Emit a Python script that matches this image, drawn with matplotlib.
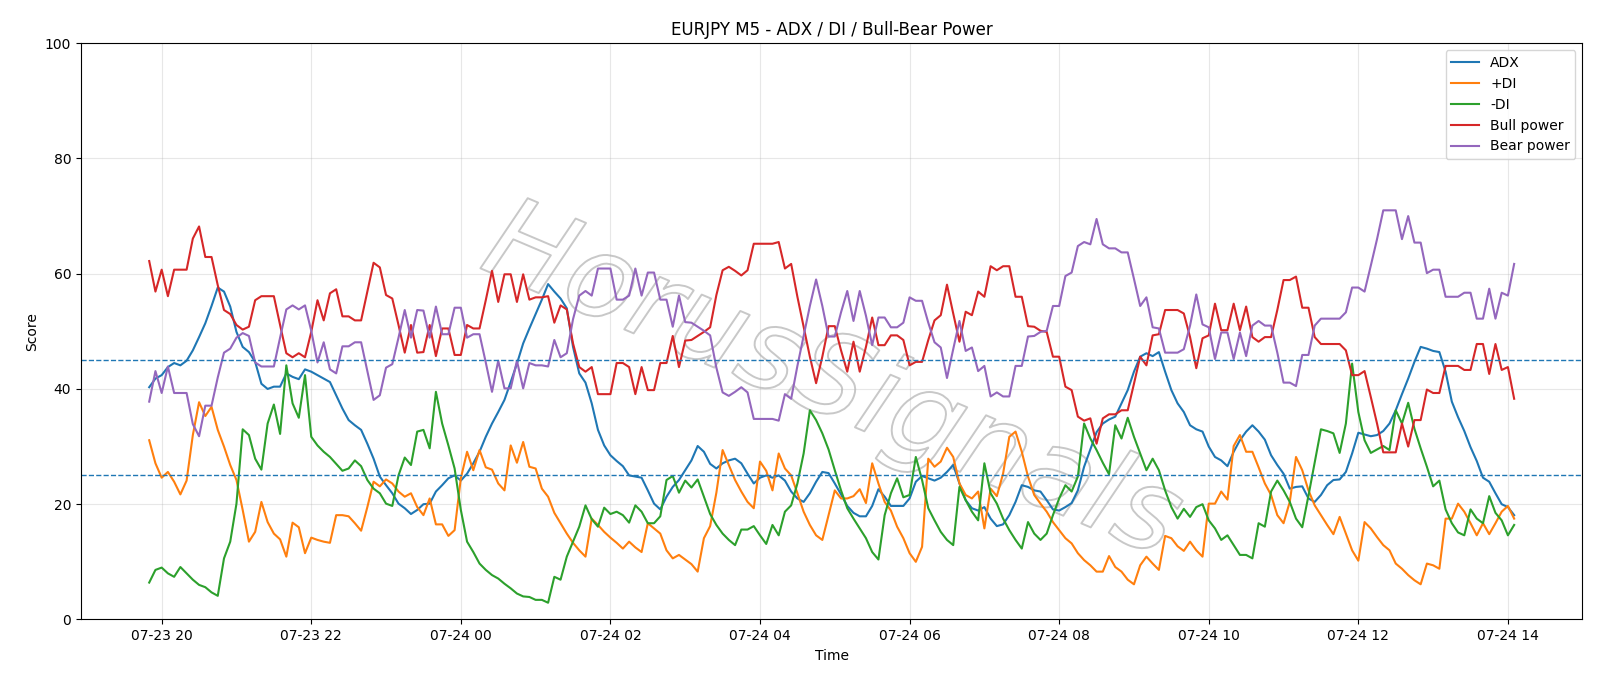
import numpy as np
import pandas as pd
import matplotlib
matplotlib.use("Agg")
import matplotlib.pyplot as plt
import matplotlib.dates as mdates
import matplotlib.patheffects as pe

# 5-minute bars, 07-23 19:50 -> 07-24 14:05
start_time = "2025-07-23 19:50"
n_bars = 220

adx = [
    40.3, 41.8, 42.4, 43.8, 44.5, 44.1, 44.9, 46.7, 49.0, 51.4,
    54.4, 57.6, 56.9, 54.3, 49.9, 47.3, 46.4, 44.7, 40.9, 40.0,
    40.4, 40.4, 42.7, 42.1, 41.7, 43.4, 43.0, 42.4, 41.8, 41.2,
    38.9, 36.6, 34.6, 33.7, 32.9, 30.5, 27.9, 24.8, 23.3, 21.9,
    20.1, 19.3, 18.3, 19.0, 20.0, 20.1, 22.2, 23.3, 24.5, 25.0,
    24.1, 25.3, 27.1, 29.1, 31.7, 34.0, 36.0, 38.1, 41.2, 44.4,
    47.9, 50.5, 53.0, 55.5, 58.2, 56.9, 55.7, 54.0, 47.3, 42.7,
    41.1, 37.5, 32.9, 30.2, 28.5, 27.5, 26.6, 25.0, 24.8, 24.6,
    22.4, 20.1, 19.1, 21.3, 23.0, 24.2, 25.9, 27.6, 30.1, 29.1,
    27.0, 26.2, 27.1, 27.6, 27.9, 27.1, 25.3, 23.6, 24.6, 25.0,
    24.6, 25.0, 24.1, 22.2, 21.0, 20.4, 21.9, 23.9, 25.6, 25.4,
    23.6, 21.7, 19.7, 18.5, 17.9, 17.9, 19.7, 22.6, 21.3, 19.7,
    19.7, 19.7, 21.0, 23.9, 24.9, 24.5, 24.1, 24.6, 25.6, 26.8,
    23.6, 20.7, 19.3, 18.9, 19.5, 17.5, 16.2, 16.5, 18.1, 20.4,
    23.3, 23.0, 22.4, 22.2, 20.7, 19.1, 18.9, 19.5, 20.2, 22.4,
    26.5, 29.5, 32.5, 34.0, 34.7, 35.2, 37.5, 39.8, 43.0, 45.6,
    46.2, 45.7, 46.4, 43.0, 39.8, 37.5, 36.0, 33.7, 33.0, 32.6,
    30.0, 28.2, 27.6, 26.6, 29.1, 31.1, 32.6, 33.7, 32.6, 31.2,
    28.5, 26.8, 25.3, 22.7, 23.0, 23.1, 21.0, 20.4, 21.6, 23.3,
    24.2, 24.3, 25.6, 28.8, 32.4, 32.1, 31.8, 32.0, 32.7, 34.0,
    36.3, 39.1, 41.8, 44.7, 47.3, 47.0, 46.6, 46.4, 43.0, 37.8,
    35.1, 32.7, 29.9, 27.5, 24.6, 23.9, 21.9, 20.0, 19.5, 18.1,
]

plus_di = [
    31.1, 27.1, 24.6, 25.6, 23.9, 21.7, 24.1, 32.0, 37.7, 35.3,
    36.9, 32.9, 30.0, 26.8, 24.2, 19.0, 13.5, 15.2, 20.4, 16.9,
    14.9, 13.9, 10.9, 16.8, 16.0, 11.5, 14.2, 13.8, 13.5, 13.3,
    18.1, 18.1, 17.9, 16.7, 15.4, 19.5, 23.9, 23.1, 24.3, 23.6,
    22.2, 21.3, 21.9, 19.5, 18.1, 21.0, 16.5, 16.5, 14.5, 15.5,
    24.5, 29.1, 25.9, 29.4, 26.4, 26.0, 23.6, 22.4, 30.2, 27.2,
    30.8, 26.5, 26.2, 22.7, 21.3, 18.5, 16.7, 14.9, 13.3, 12.0,
    10.9, 17.5, 16.4, 15.2, 14.2, 13.3, 12.3, 13.5, 12.5, 11.7,
    16.7, 15.8, 14.9, 12.0, 10.6, 11.2, 10.4, 9.6, 8.3, 14.1,
    16.2, 22.0, 29.4, 26.8, 24.2, 22.2, 20.4, 19.3, 27.4, 25.8,
    22.4, 28.8, 26.2, 25.0, 21.9, 18.7, 16.4, 14.6, 13.8, 18.1,
    22.4, 21.0, 21.0, 21.4, 22.6, 20.2, 27.1, 23.6, 20.4, 18.9,
    16.1, 14.1, 11.5, 10.0, 12.6, 27.9, 26.5, 27.4, 29.8, 28.2,
    23.6, 21.6, 21.0, 22.2, 15.8, 22.7, 21.4, 25.3, 31.7, 32.6,
    29.1, 24.8, 21.6, 20.1, 18.7, 16.9, 15.5, 14.1, 13.2, 11.5,
    10.3, 9.4, 8.3, 8.3, 11.0, 9.1, 8.3, 6.9, 6.1, 9.4,
    10.9, 9.7, 8.6, 14.5, 14.1, 12.7, 11.9, 13.5, 12.0, 10.9,
    20.1, 20.1, 22.2, 20.8, 30.1, 32.0, 29.1, 29.1, 26.4, 23.6,
    21.6, 18.1, 16.7, 20.4, 28.2, 25.9, 22.4, 19.8, 18.1, 16.4,
    14.8, 17.8, 14.9, 12.0, 10.2, 16.9, 15.8, 14.3, 12.9, 12.0,
    9.7, 8.8, 7.7, 6.8, 6.1, 9.7, 9.4, 8.8, 17.5, 17.5,
    20.1, 18.7, 16.7, 14.6, 16.7, 14.8, 16.7, 18.7, 19.7, 17.5,
]

minus_di = [
    6.4, 8.6, 9.0, 8.0, 7.4, 9.1, 8.0, 6.9, 6.0, 5.6,
    4.7, 4.1, 10.6, 13.5, 20.1, 33.0, 32.0, 27.9, 26.0, 34.0,
    37.3, 32.2, 44.1, 37.5, 35.0, 42.4, 31.7, 30.2, 29.1, 28.2,
    27.0, 25.8, 26.2, 27.6, 26.6, 24.2, 22.7, 21.9, 20.1, 19.7,
    25.0, 28.1, 26.8, 32.6, 32.9, 29.7, 39.5, 34.0, 30.2, 26.2,
    19.0, 13.5, 11.7, 9.7, 8.6, 7.7, 7.1, 6.2, 5.4, 4.5,
    4.0, 3.9, 3.4, 3.4, 2.9, 7.4, 6.9, 10.9, 13.5, 16.1,
    19.8, 17.4, 16.1, 19.4, 18.3, 18.7, 18.1, 16.8, 19.8, 18.7,
    16.7, 16.7, 17.9, 24.2, 24.9, 22.0, 24.1, 22.9, 24.3, 21.3,
    18.3, 16.4, 14.9, 13.8, 12.9, 15.6, 15.6, 16.2, 14.6, 13.1,
    16.4, 14.6, 18.7, 19.8, 23.6, 28.8, 36.3, 34.6, 32.3, 29.5,
    25.9, 22.4, 19.3, 17.5, 15.8, 14.1, 11.7, 10.4, 18.1, 21.9,
    24.5, 21.2, 21.6, 28.2, 24.2, 19.3, 17.2, 15.2, 13.8, 12.9,
    23.0, 20.7, 18.7, 17.2, 27.1, 21.9, 20.1, 17.5, 15.5, 13.8,
    12.3, 16.9, 14.9, 13.8, 14.9, 18.1, 21.0, 23.3, 22.2, 24.8,
    34.0, 31.4, 29.4, 27.2, 25.2, 33.7, 31.4, 35.0, 31.7, 28.8,
    25.9, 27.9, 25.9, 22.4, 19.5, 17.5, 19.2, 17.8, 19.5, 20.0,
    17.2, 15.8, 13.8, 14.6, 12.9, 11.2, 11.2, 10.6, 16.7, 16.1,
    22.2, 24.1, 22.4, 20.4, 17.5, 16.0, 21.5, 27.2, 33.0, 32.7,
    32.3, 28.9, 34.0, 44.4, 36.0, 31.1, 28.9, 29.5, 30.1, 29.4,
    36.3, 34.0, 37.6, 33.1, 29.7, 26.5, 23.1, 24.1, 19.1, 16.7,
    15.1, 14.6, 19.1, 17.5, 16.7, 21.4, 18.5, 17.2, 14.6, 16.4,
]

bull_power = [
    62.2, 56.9, 60.7, 56.1, 60.7, 60.7, 60.7, 66.1, 68.2, 62.9,
    62.9, 58.0, 53.7, 53.0, 51.1, 50.3, 50.8, 55.4, 56.1, 56.1,
    56.1, 51.1, 46.2, 45.5, 46.2, 45.5, 49.9, 55.4, 51.9, 56.6,
    57.3, 52.6, 52.6, 51.9, 51.9, 56.9, 61.9, 61.1, 56.3, 55.7,
    51.1, 46.3, 51.1, 46.3, 46.4, 51.1, 45.7, 50.5, 50.5, 45.9,
    45.9, 51.1, 50.5, 50.5, 55.4, 60.5, 55.1, 59.9, 59.9, 55.1,
    59.9, 55.5, 55.9, 55.9, 56.1, 51.5, 54.5, 53.8, 47.9, 43.8,
    43.0, 43.8, 39.1, 39.1, 39.1, 44.5, 44.5, 43.8, 39.1, 43.8,
    39.8, 39.8, 44.5, 44.5, 49.2, 43.8, 48.4, 48.5, 49.2, 49.9,
    50.7, 56.3, 60.6, 61.2, 60.5, 59.7, 60.6, 65.2, 65.2, 65.2,
    65.2, 65.5, 60.9, 61.7, 56.0, 50.8, 45.6, 41.0, 45.6, 50.9,
    50.9, 46.7, 43.0, 48.2, 43.0, 47.3, 52.4, 47.6, 47.6, 49.3,
    49.3, 48.5, 44.1, 44.7, 44.7, 48.5, 51.9, 52.8, 58.1, 53.1,
    48.2, 53.4, 52.8, 56.9, 56.0, 61.3, 60.6, 61.3, 61.3, 56.0,
    56.0, 50.9, 50.8, 50.1, 49.9, 45.6, 45.6, 40.4, 39.8, 35.2,
    34.5, 34.9, 30.5, 34.9, 35.6, 35.6, 36.3, 36.3, 40.9, 45.6,
    44.1, 49.3, 49.5, 53.7, 53.7, 53.7, 53.1, 49.0, 43.6, 48.8,
    49.3, 54.8, 50.2, 50.2, 54.8, 50.2, 54.3, 49.0, 48.2, 49.0,
    49.0, 53.7, 58.9, 58.9, 59.5, 54.1, 54.1, 49.0, 47.8, 47.8,
    47.8, 47.8, 46.7, 42.4, 42.4, 43.1, 38.6, 34.0, 29.0, 29.0,
    29.0, 34.0, 30.0, 34.6, 34.6, 39.9, 39.3, 39.3, 44.0, 44.0,
    44.0, 43.3, 43.3, 47.8, 47.8, 42.6, 47.8, 43.3, 43.8, 38.3,
]

bear_power = [
    37.8, 43.1, 39.3, 43.9, 39.3, 39.3, 39.3, 33.9, 31.8, 37.1,
    37.1, 42.0, 46.3, 47.0, 48.9, 49.7, 49.2, 44.6, 43.9, 43.9,
    43.9, 48.9, 53.8, 54.5, 53.8, 54.5, 50.1, 44.6, 48.1, 43.4,
    42.7, 47.4, 47.4, 48.1, 48.1, 43.1, 38.1, 38.9, 43.7, 44.3,
    48.9, 53.7, 48.9, 53.7, 53.6, 48.9, 54.3, 49.5, 49.5, 54.1,
    54.1, 48.9, 49.5, 49.5, 44.6, 39.5, 44.9, 40.1, 40.1, 44.9,
    40.1, 44.5, 44.1, 44.1, 43.9, 48.5, 45.5, 46.2, 52.1, 56.2,
    57.0, 56.2, 60.9, 60.9, 60.9, 55.5, 55.5, 56.2, 60.9, 56.2,
    60.2, 60.2, 55.5, 55.5, 50.8, 56.2, 51.6, 51.5, 50.8, 50.1,
    49.3, 43.7, 39.4, 38.8, 39.5, 40.3, 39.4, 34.8, 34.8, 34.8,
    34.8, 34.5, 39.1, 38.3, 44.0, 49.2, 54.4, 59.0, 54.4, 49.1,
    49.1, 53.3, 57.0, 51.8, 57.0, 52.7, 47.6, 52.4, 52.4, 50.7,
    50.7, 51.5, 55.9, 55.3, 55.3, 51.5, 48.1, 47.2, 41.9, 46.9,
    51.8, 46.6, 47.2, 43.1, 44.0, 38.7, 39.4, 38.7, 38.7, 44.0,
    44.0, 49.1, 49.2, 49.9, 50.1, 54.4, 54.4, 59.6, 60.2, 64.8,
    65.5, 65.1, 69.5, 65.1, 64.4, 64.4, 63.7, 63.7, 59.1, 54.4,
    55.9, 50.7, 50.5, 46.3, 46.3, 46.3, 46.9, 51.0, 56.4, 51.2,
    50.7, 45.2, 49.8, 49.8, 45.2, 49.8, 45.7, 51.0, 51.8, 51.0,
    51.0, 46.3, 41.1, 41.1, 40.5, 45.9, 45.9, 51.0, 52.2, 52.2,
    52.2, 52.2, 53.3, 57.6, 57.6, 56.9, 61.4, 66.0, 71.0, 71.0,
    71.0, 66.0, 70.0, 65.4, 65.4, 60.1, 60.7, 60.7, 56.0, 56.0,
    56.0, 56.7, 56.7, 52.2, 52.2, 57.4, 52.2, 56.7, 56.2, 61.7,
]

levels = [25, 45]

if __name__ == '__main__':
    t = pd.date_range(start_time, periods=n_bars, freq="5min")

    fig, ax = plt.subplots(figsize=(16, 6.86), dpi=100)
    fig.subplots_adjust(left=0.0506, right=0.989, top=0.937, bottom=0.097)

    # faint outlined watermark behind the lines
    ax.text(0.5, 0.41, "HorusSignals", transform=ax.transAxes,
            fontsize=82, style="italic", rotation=-23,
            ha="center", va="center", color=(1, 1, 1, 0), zorder=0,
            path_effects=[pe.Stroke(linewidth=1.4, foreground="#c8c8c8"),
                          pe.Normal()])

    ax.plot(t, adx, label="ADX", lw=1.5)
    ax.plot(t, plus_di, label="+DI", lw=1.5)
    ax.plot(t, minus_di, label="-DI", lw=1.5)
    ax.plot(t, bull_power, label="Bull power", lw=1.5)
    ax.plot(t, bear_power, label="Bear power", lw=1.5)
    for lv in levels:
        ax.axhline(lv, color="C0", ls="--", lw=1.0)

    ax.set_ylim(0, 100)
    ax.xaxis.set_major_locator(mdates.HourLocator(interval=2))
    ax.xaxis.set_major_formatter(mdates.DateFormatter("%m-%d %H"))
    ax.grid(True, alpha=0.3)
    ax.set_title("EURJPY M5 - ADX / DI / Bull-Bear Power")
    ax.set_xlabel("Time")
    ax.set_ylabel("Score")
    ax.legend(loc="upper right")

    fig.savefig("out.png")
